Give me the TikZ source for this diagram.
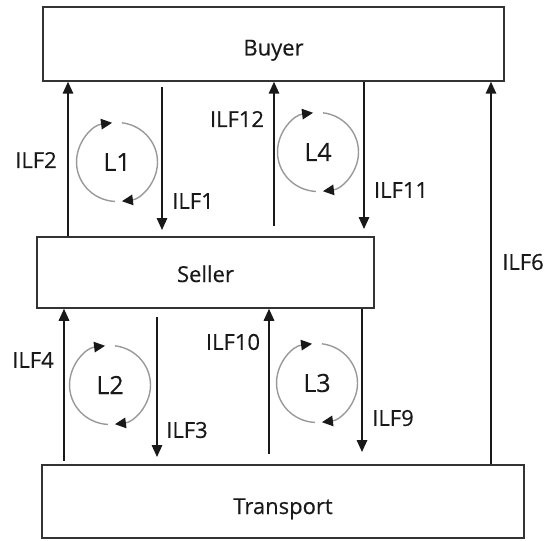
\documentclass[tikz,border=0pt]{standalone}
\usepackage{fontspec}
\setmainfont{Open Sans}[FakeBold=0.4]
\usetikzlibrary{arrows.meta}
\begin{document}
\begin{tikzpicture}[x=1pt,y=-1pt,
  every node/.style={font=\fontsize{22}{26}\selectfont, text=black!90, inner sep=0pt},
  entity/.style={draw=black!80, line width=1.5pt, rectangle, fill=white},
  flow/.style={line width=1.6pt, draw=black!90, -{Triangle[length=12pt,width=10.5pt]}},
  loopline/.style={draw=black!40, line width=1.4pt, -{Triangle[length=11pt,width=10.5pt,color=black!90]}},
  looplbl/.style={font=\fontsize{25}{28}\selectfont},
  lbl/.style={}]
\useasboundingbox (0,0) rectangle (548,540);
% entities
\node[entity, minimum width=461pt, minimum height=74pt, text height=23pt, text depth=0pt] (buyer) at (273.5,44) {Buyer};
\node[entity, minimum width=337pt, minimum height=71pt, text height=19pt, text depth=0pt] (seller) at (205.5,272.5) {Seller};
\node[entity, minimum width=482pt, minimum height=73pt, text height=25pt, text depth=0pt] (transport) at (283,501.5) {Transport};
% free ends
\coordinate (f1s) at (162,87);
\coordinate (f1e) at (162,230);
\coordinate (f12s) at (274,226);
\coordinate (f11e) at (364,229);
\coordinate (f4s) at (64,461);
\coordinate (f3s) at (157,317);
\coordinate (f3e) at (157,457);
\coordinate (f10s) at (269,454);
\coordinate (f9e) at (362,452);
% upper flows
\draw[flow] (seller.north -| 68,0) -- (buyer.south -| 68,0);
\draw[flow] (f1s) -- (f1e);
\draw[flow] (f12s) -- (buyer.south -| f12s);
\draw[flow] (buyer.south -| f11e) -- (f11e);
\draw[flow] (transport.north -| 491,0) -- (buyer.south -| 491,0);
% lower flows
\draw[flow] (f4s) -- (seller.south -| f4s);
\draw[flow] (f3s) -- (f3e);
\draw[flow] (f10s) -- (seller.south -| f10s);
\draw[flow] (seller.south -| f9e) -- (f9e);
% labels
\node[lbl] (t2) at (36,160) {ILF2};
\node[lbl] (t1) at (193,201) {ILF1};
\node[lbl] (t12) at (237,119) {ILF12};
\node[lbl] (t11) at (401,190) {ILF11};
\node[lbl] (t6) at (523,262) {ILF6};
\node[lbl] (t4) at (33,360) {ILF4};
\node[lbl] (t3) at (187,430) {ILF3};
\node[lbl] (t10) at (233,342) {ILF10};
\node[lbl] (t9) at (393,418) {ILF9};
% loops
\foreach \n/\px/\py in {L1/117/162, L4/318/152, L2/110/385, L3/317/383}{
  \node[looplbl] (\n) at (\px,\py) {\n};
  \draw[loopline] (\n.center) ++(83:40.5pt and 39.5pt) arc[start angle=83, end angle=-83, x radius=40.5pt, y radius=39.5pt];
  \draw[loopline] (\n.center) ++(267:40.5pt and 39.5pt) arc[start angle=267, end angle=97, x radius=40.5pt, y radius=39.5pt];
}
\end{tikzpicture}
\end{document}
